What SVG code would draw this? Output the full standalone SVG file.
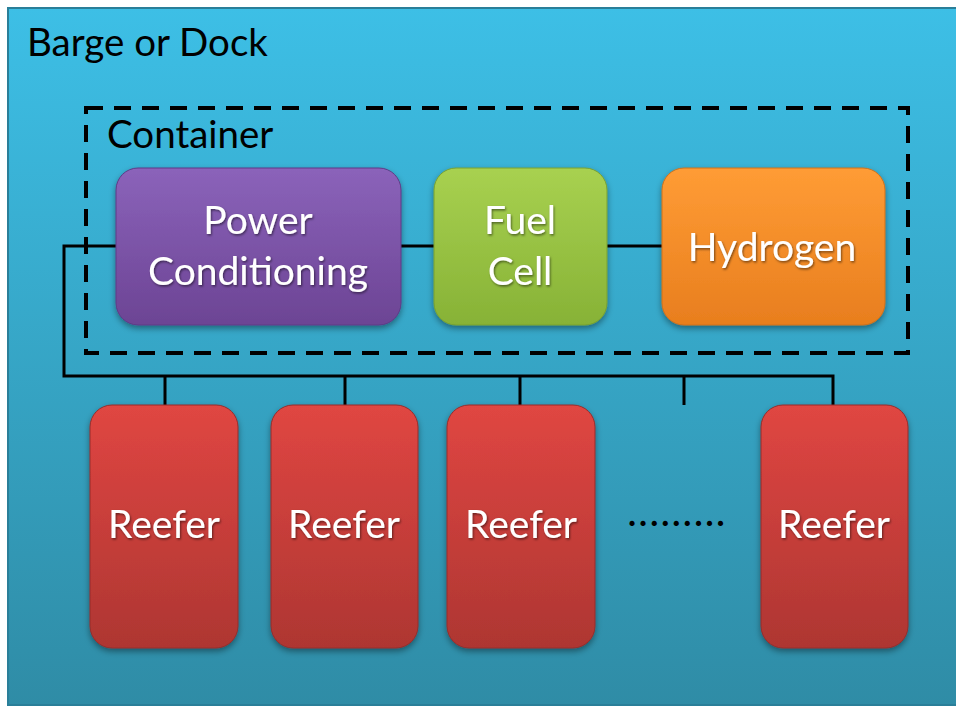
<svg xmlns="http://www.w3.org/2000/svg" width="956" height="706" viewBox="0 0 956 706">
<defs>
<linearGradient id="bg" x1="0" y1="0" x2="0" y2="1"><stop offset="0" stop-color="#3DBFE6"/><stop offset="1" stop-color="#2F8CA6"/></linearGradient>
<linearGradient id="gp" x1="0" y1="0" x2="0" y2="1"><stop offset="0" stop-color="#8B63BA"/><stop offset="1" stop-color="#6C4494"/></linearGradient>
<linearGradient id="gg" x1="0" y1="0" x2="0" y2="1"><stop offset="0" stop-color="#A8D150"/><stop offset="1" stop-color="#87B236"/></linearGradient>
<linearGradient id="go" x1="0" y1="0" x2="0" y2="1"><stop offset="0" stop-color="#FF9C35"/><stop offset="1" stop-color="#E87E1E"/></linearGradient>
<linearGradient id="gr" x1="0" y1="0" x2="0" y2="1"><stop offset="0" stop-color="#E04642"/><stop offset="1" stop-color="#AE3632"/></linearGradient>
<filter id="sh" x="-10%" y="-10%" width="120%" height="125%"><feDropShadow dx="0" dy="3" stdDeviation="3" flood-color="#000" flood-opacity="0.4"/></filter>
<filter id="ts" x="-5%" y="-5%" width="110%" height="120%"><feDropShadow dx="1" dy="1.5" stdDeviation="1" flood-color="#000" flood-opacity="0.5"/></filter>
</defs>
<style>
.lbl{font-family:Lato,"Open Sans","Liberation Sans",sans-serif;font-size:38.5px;fill:#000}
.nt{font-family:Lato,"Open Sans","Liberation Sans",sans-serif;font-size:39px;fill:#fff;text-anchor:middle;filter:url(#ts)}
.box{filter:url(#sh);stroke-width:1}
.wire{fill:none;stroke:#000;stroke-width:3}
</style>
<rect x="0" y="0" width="956" height="706" fill="#fff"/>
<rect id="barge" x="8" y="8" width="952" height="697" fill="url(#bg)" stroke="#2a7f99" stroke-width="2"/>
<text class="lbl" x="27" y="56">Barge or Dock</text>
<g id="container">
<rect x="86" y="108" width="822" height="245" fill="none" stroke="#000" stroke-width="4" stroke-dasharray="17,11"/>
<text class="lbl" x="107" y="148">Container</text>
</g>
<g id="connectors">
<path class="wire" d="M116,246 H64 V376 H833 V405"/>
<path class="wire" d="M401,246 H434"/>
<path class="wire" d="M607,246 H662"/>
<path class="wire" d="M165,376 V405 M345,376 V405 M520,376 V405 M684,376 V405"/>
</g>
<g id="power"><rect class="box" x="116" y="168" width="285" height="157" rx="22" fill="url(#gp)" stroke="#5e3a85"/>
<text class="nt" x="258" y="234">Power</text><text class="nt" x="258" y="285">Conditioning</text></g>
<g id="fuelcell"><rect class="box" x="434" y="168" width="173" height="157" rx="22" fill="url(#gg)" stroke="#78a030"/>
<text class="nt" x="520" y="234">Fuel</text><text class="nt" x="520" y="285">Cell</text></g>
<g id="hydrogen"><rect class="box" x="662" y="168" width="223" height="157" rx="22" fill="url(#go)" stroke="#d0701a"/>
<text class="nt" x="772" y="261">Hydrogen</text></g>
<g id="reefer1"><rect class="box" x="90" y="405" width="148" height="243" rx="22" fill="url(#gr)" stroke="#962d2a"/><text class="nt" x="164" y="538">Reefer</text></g>
<g id="reefer2"><rect class="box" x="271" y="405" width="147" height="243" rx="22" fill="url(#gr)" stroke="#962d2a"/><text class="nt" x="344" y="538">Reefer</text></g>
<g id="reefer3"><rect class="box" x="447" y="405" width="148" height="243" rx="22" fill="url(#gr)" stroke="#962d2a"/><text class="nt" x="521" y="538">Reefer</text></g>
<g id="reefer4"><rect class="box" x="761" y="405" width="147" height="243" rx="22" fill="url(#gr)" stroke="#962d2a"/><text class="nt" x="834" y="538">Reefer</text></g>
<text id="dots" x="628" y="526" font-family="Lato,'Liberation Sans',sans-serif" font-size="34" font-weight="bold" letter-spacing="3" fill="#000">.........</text>
</svg>
